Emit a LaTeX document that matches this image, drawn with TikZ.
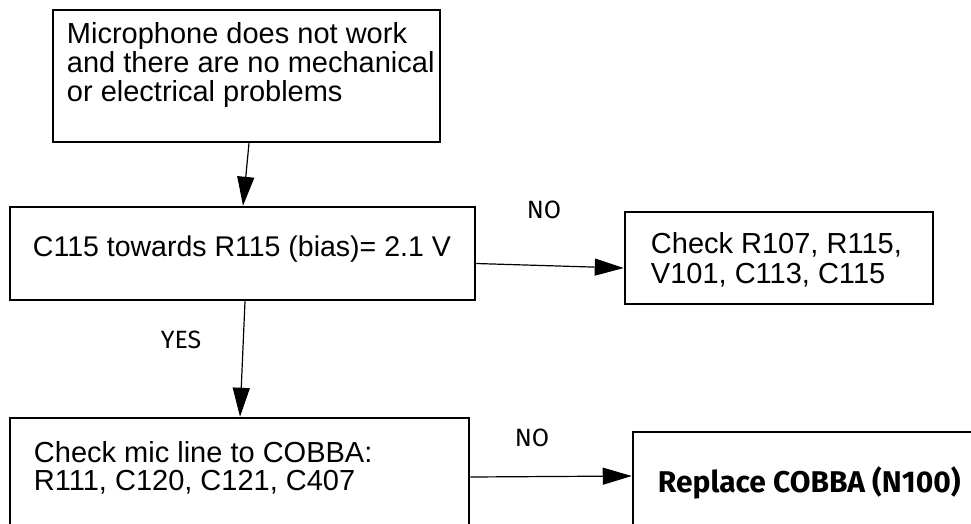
\documentclass[tikz,border=0pt]{standalone}
\usepackage{fontspec}
\setmainfont{Liberation Sans}
\newfontfamily\nokfont{Fira Sans}
\usetikzlibrary{arrows.meta}

\tikzset{
  kasten/.style={draw, line width=2.5pt, inner sep=0pt},
  txt/.style={inner sep=0pt, align=left},
  antwort/.style={inner sep=0pt, font=\nokfont\fontsize{25}{27}\selectfont},
  pfeil/.style={line width=1.2pt, -{Triangle[length=29pt,width=17pt]}}
}

\begin{document}
\begin{tikzpicture}[x=1pt,y=-1pt]
  % 画布
  \useasboundingbox (0,0) rectangle (971,523);
  \clip (0,0) rectangle (971,523);
  % 绘制方框
  \node[kasten, minimum width=387, minimum height=132] (b1) at (246.5,76) {};
  \node[kasten, minimum width=465, minimum height=93] (b2) at (242.5,253.5) {};
  \node[kasten, minimum width=308, minimum height=92] (b3) at (779,258) {};
  \node[kasten, minimum width=459, minimum height=122] (b4) at (239.5,479) {};
  \node[kasten, minimum width=357, minimum height=108] (b5) at (811.5,486) {};
  % 方框文字
  \node[txt, anchor=north west, font=\fontsize{29}{29}\selectfont] (t1)
    at ([shift={(15,13.5)}]b1.north west)
    {Microphone does not work\\and there are no mechanical\\or electrical problems};
  \node[txt, anchor=north west, font=\fontsize{28.5}{30}\selectfont] (t2)
    at ([shift={(24,29.5)}]b2.north west)
    {C115 towards R115 (bias)= 2.1 V};
  \node[txt, anchor=north west, font=\fontsize{29}{30}\selectfont] (t3)
    at ([shift={(27,21.3)}]b3.north west)
    {Check R107, R115,\\V101, C113, C115};
  \node[txt, anchor=north west, font=\fontsize{29}{28}\selectfont] (t4)
    at ([shift={(25,24.5)}]b4.north west)
    {Check mic line to COBBA:\\R111, C120, C121, C407};
  \node[inner sep=0pt, anchor=west, font=\nokfont\bfseries\fontsize{30}{32}\selectfont] (t5)
    at ([shift={(26,-3)}]b5.west) {Replace COBBA (N100)};
  % 箭头
  \draw[pfeil] ([xshift=2.5]b1.south) -- ([xshift=0.5]b2.north);
  \draw[pfeil] ([xshift=2.5]b2.south) -- ([xshift=0.5]b4.north);
  \draw[pfeil] ([yshift=-10]b2.east) -- ([yshift=-10]b3.west);
  \draw[pfeil] ([yshift=2]b4.east) -- ([yshift=10]b5.west);
  % 标记 YES / NO
  \node[antwort] (n1) at (544,209.5) {NO};
  \node[antwort] (y1) at (181,339.5) {YES};
  \node[antwort] (n2) at (532,438) {NO};
\end{tikzpicture}
\end{document}
